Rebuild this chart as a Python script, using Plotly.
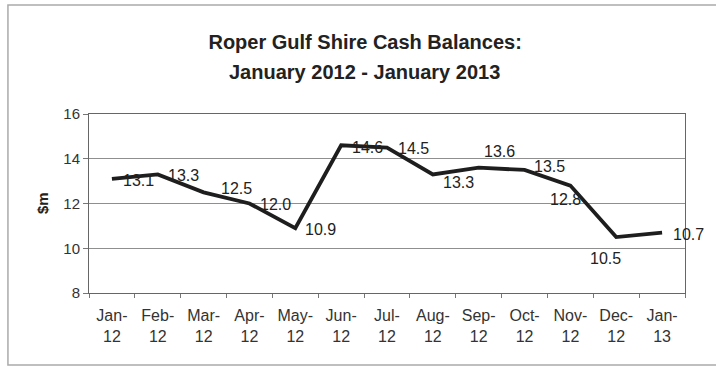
import plotly.graph_objects as go

months = ["Jan-12", "Feb-12", "Mar-12", "Apr-12", "May-12", "Jun-12", "Jul-12",
          "Aug-12", "Sep-12", "Oct-12", "Nov-12", "Dec-12", "Jan-13"]
cash_m = [13.1, 13.3, 12.5, 12.0, 10.9, 14.6, 14.5, 13.3, 13.6, 13.5, 12.8, 10.5, 10.7]
y_ticks = [8, 10, 12, 14, 16]

# data-label offsets in pixels (right, down) relative to each point
label_dx = [27, 26, 33, 26, 25, 26, 26, 26, 21, 25, -5, -11, 26]
label_dy = [2, 1, -4, 1, 1, 2, 1, 8, -16, -3, 14, 21, 2]

cats = [m.replace("-", "-<br>") for m in months]
FONT = "Arial, 'Liberation Sans', sans-serif"

fig = go.Figure()
fig.add_trace(go.Scatter(
    x=cats, y=cash_m, mode="lines",
    line=dict(color="#1e1e1e", width=3.8),
    hoverinfo="skip", showlegend=False,
))

annotations = []
for c, v, dx, dy in zip(cats, cash_m, label_dx, label_dy):
    annotations.append(dict(x=c, y=v, xref="x", yref="y", text=f"{v:.1f}",
                            showarrow=False, xanchor="center", yanchor="middle",
                            xshift=dx, yshift=-dy,
                            font=dict(family=FONT, size=16, color="#222")))
annotations.append(dict(text="<b>January 2012 - January 2013</b>", xref="paper", yref="paper",
                        x=0.463, y=1.235, xanchor="center", yanchor="middle", showarrow=False,
                        font=dict(family=FONT, size=20, color="#222")))

fig.update_layout(
    width=716, height=367,
    margin=dict(l=89, r=31, t=114, b=74),
    paper_bgcolor="white", plot_bgcolor="white",
    title=dict(text="<b>Roper Gulf Shire Cash Balances:</b>",
               x=0.51, xanchor="center", y=0.886, yanchor="middle",
               font=dict(family=FONT, size=20, color="#222")),
    xaxis=dict(type="category", range=[-0.5, 12.5], showgrid=False,
               tickson="boundaries", ticks="outside", ticklen=4, tickcolor="#777",
               showline=True, linecolor="#666", linewidth=1, mirror=True,
               ticklabelstandoff=8,
               tickfont=dict(family=FONT, size=16, color="#333")),
    yaxis=dict(range=[8, 16], tickvals=y_ticks, showgrid=True, gridcolor="#8f8f8f",
               gridwidth=1, ticks="outside", ticklen=5, tickcolor="#777",
               showline=True, linecolor="#666", linewidth=1, mirror=True,
               zeroline=False,
               tickfont=dict(family=FONT, size=15, color="#333")),
    annotations=annotations + [
        dict(text="<b>$m</b>", xref="paper", yref="paper", x=-0.078, y=0.5,
             textangle=-90, showarrow=False, xanchor="center", yanchor="middle",
             font=dict(family=FONT, size=15, color="#222"))],
    shapes=[dict(type="rect", xref="paper", yref="paper", x0=-0.136, x1=1.06,
                 y0=-0.402, y1=1.609, line=dict(color="#aaa", width=1.5))],
)

fig.write_html("out.html")
